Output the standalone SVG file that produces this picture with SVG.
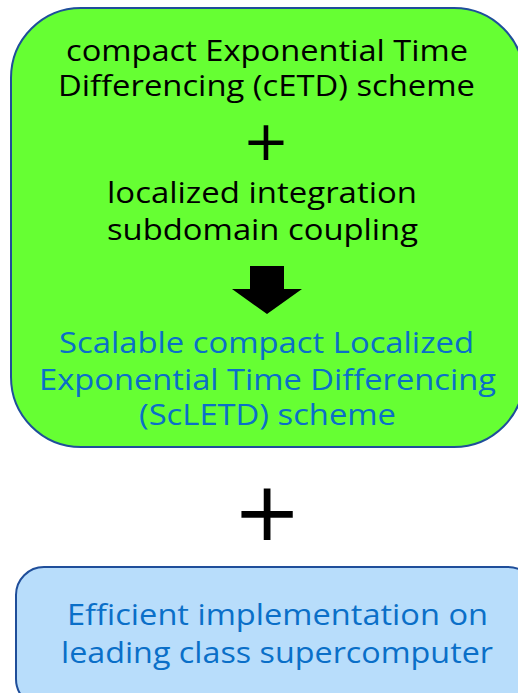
<svg xmlns="http://www.w3.org/2000/svg" width="518" height="693" viewBox="0 0 518 693">
<style>
.t{font-family:"Open Sans","Noto Sans","DejaVu Sans",sans-serif;font-size:30px;text-anchor:middle}
.k{fill:#000}
.b{fill:#0A6FC8}
.p{font-family:"DejaVu Sans",sans-serif;text-anchor:middle;fill:#000}
</style>
<rect width="518" height="693" fill="#fff"/>
<g id="scletd">
<rect x="11" y="8" width="513" height="439" rx="70" ry="70" fill="#66FF33" stroke="#1F4E9A" stroke-width="2"/>
<text class="t k" x="267" y="61" textLength="402" lengthAdjust="spacingAndGlyphs">compact Exponential Time</text>
<text class="t k" x="266.5" y="96" textLength="417" lengthAdjust="spacingAndGlyphs">Differencing (cETD) scheme</text>
<text class="p" x="266" y="160" font-size="56">+</text>
<text class="t k" x="262" y="203" textLength="310" lengthAdjust="spacingAndGlyphs">localized integration</text>
<text class="t k" x="262.5" y="240" textLength="311" lengthAdjust="spacingAndGlyphs">subdomain coupling</text>
<polygon points="250,266 284,266 284,289 302,289 267,314 232,289 250,289" fill="#000"/>
<text class="t b" x="266.5" y="353" textLength="415" lengthAdjust="spacingAndGlyphs">Scalable compact Localized</text>
<text class="t b" x="267.5" y="390" textLength="457" lengthAdjust="spacingAndGlyphs">Exponential Time Differencing</text>
<text class="t b" x="267.5" y="425" textLength="257" lengthAdjust="spacingAndGlyphs">(ScLETD) scheme</text>
</g>
<g id="plus2">
<text class="p" x="267" y="540" font-size="82">+</text>
</g>
<g id="impl">
<rect x="16" y="567" width="520" height="140" rx="28" ry="28" fill="#B8DDFB" stroke="#1F4E9A" stroke-width="2"/>
<text class="t b" x="277.5" y="625" textLength="421" lengthAdjust="spacingAndGlyphs">Efficient implementation on</text>
<text class="t b" x="277" y="663" textLength="432" lengthAdjust="spacingAndGlyphs">leading class supercomputer</text>
</g>
<g id="connectors"></g>
</svg>
